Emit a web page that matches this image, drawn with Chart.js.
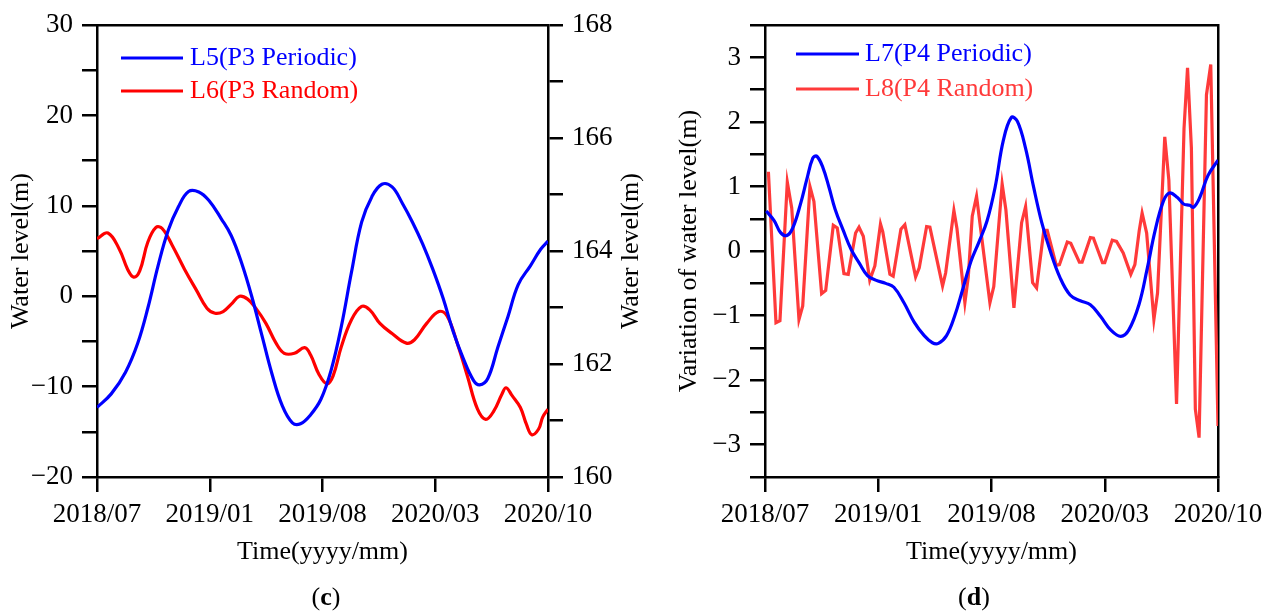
<!DOCTYPE html>
<html><head><meta charset="utf-8">
<script src="https://cdn.jsdelivr.net/npm/chart.js@4.4.0/dist/chart.umd.min.js"></script>
<style>
html,body{margin:0;padding:0;background:#fff;width:1274px;height:615px;overflow:hidden;}
#ca{position:absolute;left:0;top:0;}
#cb{position:absolute;left:637px;top:0;}
.cap{position:absolute;top:582px;font-family:"Liberation Serif";font-size:26px;line-height:30px;color:#000;width:60px;text-align:center;}
</style></head>
<body>
<canvas id="ca" width="660" height="615"></canvas>
<canvas id="cb" width="637" height="615"></canvas>
<div class="cap" style="left:296px">(<b>c</b>)</div>
<div class="cap" style="left:944px">(<b>d</b>)</div>
<script>
// ---- tick labels (x positions 0..4 correspond to these dates) ----
const X_TICK_LABELS = ['2018/07','2019/01','2019/08','2020/03','2020/10'];

// ---- panel (c) ----
const L5_X = [0,0.126,0.253,0.361,0.451,0.542,0.632,0.722,0.812,0.903,0.993,1.101,1.191,1.282,1.372,1.462,1.552,1.643,1.733,1.805,1.895,1.986,2.076,2.166,2.256,2.347,2.437,2.527,2.617,2.708,2.798,2.888,2.978,3.069,3.159,3.249,3.339,3.394,3.466,3.556,3.646,3.736,3.845,3.935,4.0];
const L5_Y = [-12.3,-10.8,-8.4,-5.2,-1.3,3.4,7.3,9.9,11.6,11.55,10.6,8.6,6.7,3.7,0,-4.3,-8.6,-12.1,-14.0,-14.1,-13.1,-11.4,-8.2,-3.4,2.6,8.2,11.0,12.4,12.1,10.3,8.2,5.8,3.0,-0.2,-3.9,-6.9,-9.3,-9.8,-9.1,-5.6,-2.2,1.3,3.4,5.2,6.1];
const L6_X = [0,0.097,0.199,0.271,0.325,0.379,0.451,0.523,0.578,0.668,0.776,0.884,0.975,1.047,1.119,1.191,1.264,1.336,1.408,1.498,1.588,1.661,1.751,1.841,1.895,1.968,2.040,2.094,2.166,2.256,2.347,2.419,2.509,2.617,2.744,2.816,2.924,3.032,3.105,3.195,3.285,3.375,3.448,3.520,3.592,3.628,3.682,3.755,3.809,3.856,3.917,3.953,4.0];
const L6_Y = [164.22,164.32,164.03,163.68,163.54,163.65,164.16,164.42,164.40,164.10,163.68,163.30,162.99,162.90,162.93,163.06,163.20,163.15,162.99,162.72,162.37,162.19,162.19,162.29,162.16,161.82,161.65,161.79,162.30,162.78,163.02,162.96,162.72,162.54,162.37,162.43,162.72,162.93,162.85,162.37,161.79,161.20,161.02,161.17,161.47,161.58,161.44,161.23,160.93,160.75,160.85,161.06,161.20];

// ---- panel (d) ----
const L7_X = [0.011,0.082,0.136,0.19,0.243,0.315,0.369,0.422,0.458,0.512,0.565,0.619,0.691,0.762,0.834,0.905,0.977,1.066,1.138,1.227,1.317,1.406,1.478,1.531,1.603,1.674,1.746,1.818,1.889,1.961,2.032,2.104,2.175,2.229,2.301,2.372,2.444,2.515,2.605,2.694,2.784,2.873,2.962,3.052,3.141,3.213,3.302,3.374,3.445,3.517,3.571,3.642,3.696,3.75,3.785,3.839,3.911,4.0];
const L7_Y = [0.62,0.47,0.29,0.24,0.35,0.74,1.11,1.44,1.47,1.29,0.99,0.65,0.32,0.02,-0.19,-0.38,-0.45,-0.50,-0.56,-0.80,-1.10,-1.31,-1.42,-1.43,-1.31,-1.01,-0.59,-0.16,0.14,0.47,0.99,1.71,2.07,2.01,1.59,0.99,0.44,0.02,-0.41,-0.68,-0.77,-0.83,-1.01,-1.22,-1.32,-1.22,-0.83,-0.28,0.32,0.77,0.90,0.83,0.73,0.71,0.68,0.83,1.17,1.41];
const L8_X = [0.03,0.097,0.132,0.197,0.236,0.30,0.333,0.397,0.432,0.50,0.536,0.603,0.638,0.697,0.735,0.80,0.83,0.868,0.925,0.97,1.02,1.04,1.103,1.132,1.20,1.235,1.33,1.362,1.427,1.456,1.568,1.595,1.668,1.695,1.765,1.795,1.83,1.868,1.986,2.02,2.094,2.127,2.198,2.266,2.301,2.363,2.398,2.462,2.492,2.572,2.60,2.669,2.70,2.776,2.80,2.873,2.90,2.98,3.0,3.066,3.104,3.163,3.23,3.266,3.304,3.33,3.37,3.434,3.466,3.53,3.566,3.634,3.70,3.731,3.765,3.80,3.833,3.898,3.936,4.0];
const L8_Y = [1.23,-1.11,-1.08,1.07,0.67,-1.06,-0.85,1.00,0.77,-0.66,-0.61,0.40,0.36,-0.35,-0.36,0.28,0.37,0.23,-0.45,-0.23,0.42,0.30,-0.36,-0.39,0.34,0.41,-0.40,-0.26,0.38,0.37,-0.54,-0.34,0.63,0.35,-0.80,-0.40,0.54,0.85,-0.80,-0.55,1.04,0.64,-0.88,0.44,0.69,-0.49,-0.57,0.32,0.32,-0.22,-0.21,0.14,0.12,-0.17,-0.17,0.21,0.20,-0.18,-0.18,0.17,0.15,-0.03,-0.36,-0.21,0.31,0.59,0.28,-1.06,-0.65,1.77,1.10,-2.37,1.90,2.84,1.60,-2.45,-2.89,2.42,2.89,-2.71];

const FONT = 'Liberation Serif';
const SZ = 26;      // titles / legend
const TSZ = 27;     // tick labels
const pts = (xs, ys) => xs.map((x, i) => ({x, y: ys[i]}));
const minus = v => String(v).replace('-', '\u2212');
const fixW = w => s => { s.width = w; };
const fixH = h => s => { s.height = h; };

const legendPlugin = {
  id: 'inLegend',
  afterDatasetsDraw(chart, args, o) {
    if (!o || o.x0 === undefined) return;
    const ctx = chart.ctx; ctx.save();
    ctx.font = SZ + 'px "' + FONT + '"'; ctx.textBaseline = 'middle'; ctx.textAlign = 'left';
    chart.data.datasets.forEach((ds, i) => {
      const y = o.y0 + i * o.dy;
      ctx.strokeStyle = ds.borderColor; ctx.lineWidth = 3.2;
      ctx.beginPath(); ctx.moveTo(o.x0, y); ctx.lineTo(o.x0 + o.len, y); ctx.stroke();
      ctx.fillStyle = ds.borderColor; ctx.fillText(ds.label, o.x0 + o.len + o.gap, y);
    });
    ctx.restore();
  }
};
const rightTitlePlugin = {
  id: 'rightTitle',
  afterDraw(chart, args, o) {
    if (!o || !o.text) return;
    const ctx = chart.ctx, a = chart.chartArea; ctx.save();
    ctx.font = SZ + 'px "' + FONT + '"'; ctx.fillStyle = '#000';
    ctx.textAlign = 'center'; ctx.textBaseline = 'middle';
    ctx.translate(o.x, (a.top + a.bottom) / 2); ctx.rotate(-Math.PI / 2);
    ctx.fillText(o.text, 0, 0); ctx.restore();
  }
};

function xAxis() {
  return {
    type: 'linear', position: 'bottom', min: 0, max: 4,
    afterFit: fixH(138),
    ticks: { stepSize: 1, autoSkip: false, maxRotation: 0, color: '#000', padding: 7,
      font: { family: FONT, size: TSZ }, callback: v => X_TICK_LABELS[v] ?? '' },
    grid: { drawOnChartArea: false, drawTicks: true, tickLength: 15, color: '#000', lineWidth: 2.5 },
    border: { color: '#000', width: 2.5 },
    title: { display: true, text: 'Time(yyyy/mm)', color: '#000', font: { family: FONT, size: SZ }, padding: { top: 0, bottom: 47 } }
  };
}
function topAxis() {
  return { type: 'linear', position: 'top', min: 0, max: 4, afterFit: fixH(24),
    ticks: { display: false }, grid: { display: false }, border: { color: '#000', width: 2.5 } };
}
function yAxis(pos, min, max, step, labelEvery, width, title, titlePad) {
  return {
    type: 'linear', position: pos, min, max, afterFit: fixW(width),
    ticks: { stepSize: step, autoSkip: false, color: '#000', padding: 9, font: { family: FONT, size: TSZ },
      callback: v => (Math.abs(v / labelEvery - Math.round(v / labelEvery)) < 1e-6 ? minus(v) : '') },
    grid: { drawOnChartArea: false, drawTicks: true, tickLength: 15, color: '#000', lineWidth: 2.5 },
    border: { color: '#000', width: 2.5 },
    title: { display: !!title, text: title || '', color: '#000', font: { family: FONT, size: SZ }, padding: { top: titlePad, bottom: 0 } }
  };
}

new Chart(document.getElementById('ca'), {
  type: 'line',
  data: { datasets: [
    { label: 'L5(P3 Periodic)', data: pts(L5_X, L5_Y), yAxisID: 'y', borderColor: '#0000ff', borderWidth: 3.2, pointRadius: 0, tension: 0.4, fill: false },
    { label: 'L6(P3 Random)', data: pts(L6_X, L6_Y), yAxisID: 'y2', borderColor: '#ff0000', borderWidth: 3.2, pointRadius: 0, tension: 0.4, fill: false }
  ]},
  options: {
    responsive: false, animation: false, events: [],
    layout: { padding: 0 },
    plugins: { legend: { display: false }, tooltip: { enabled: false },
      inLegend: { x0: 121, len: 62, gap: 7, y0: 58, dy: 33 },
      rightTitle: { text: 'Water level(m)', x: 631 } },
    scales: {
      x: xAxis(), x2: topAxis(),
      y: yAxis('left', -20, 30, 5, 10, 97, 'Water level(m)', 6),
      y2: yAxis('right', 160, 168, 1, 2, 112, '', 0)
    }
  },
  plugins: [legendPlugin, rightTitlePlugin]
});

new Chart(document.getElementById('cb'), {
  type: 'line',
  data: { datasets: [
    { label: 'L7(P4 Periodic)', data: pts(L7_X, L7_Y), yAxisID: 'y', borderColor: '#0000ff', borderWidth: 3.2, pointRadius: 0, tension: 0.4, fill: false },
    { label: 'L8(P4 Random)', data: pts(L8_X, L8_Y), yAxisID: 'y', borderColor: '#ff3a3a', borderWidth: 3.2, pointRadius: 0, tension: 0, fill: false }
  ]},
  options: {
    responsive: false, animation: false, events: [],
    layout: { padding: 0 },
    plugins: { legend: { display: false }, tooltip: { enabled: false },
      inLegend: { x0: 159, len: 63, gap: 6, y0: 54, dy: 35 } },
    scales: {
      x: xAxis(), x2: topAxis(),
      y: yAxis('left', -3.5, 3.5, 0.5, 1, 128, 'Variation of water level(m)', 37),
      y2: { type: 'linear', position: 'right', min: -3.5, max: 3.5, afterFit: fixW(56),
        ticks: { display: false }, grid: { display: false }, border: { color: '#000', width: 2.5 } }
    }
  },
  plugins: [legendPlugin]
});
</script>
</body></html>
